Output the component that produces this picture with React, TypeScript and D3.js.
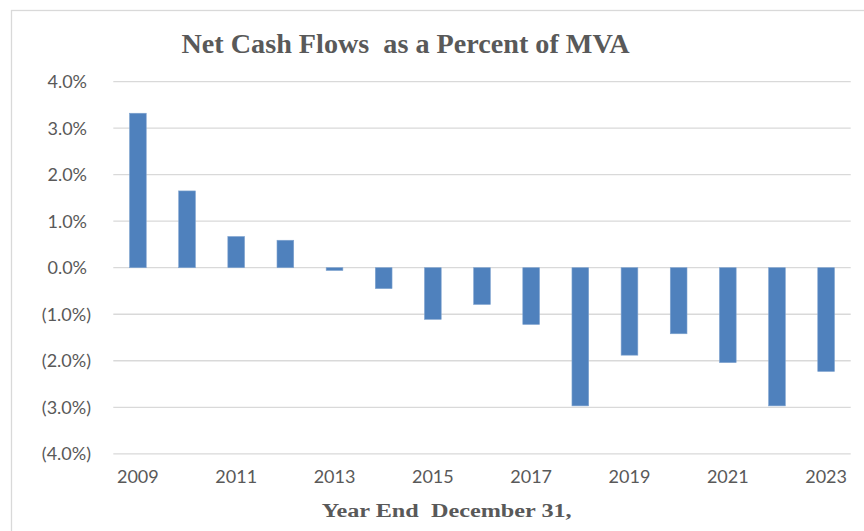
import React from "react";
import * as d3 from "d3";

const years = ["2009","2010","2011","2012","2013","2014","2015","2016","2017","2018","2019","2020","2021","2022","2023"];
const values = [3.32, 1.65, 0.67, 0.59, -0.06, -0.45, -1.11, -0.79, -1.22, -2.97, -1.88, -1.42, -2.04, -2.97, -2.23];
const yTicks = [4, 3, 2, 1, 0, -1, -2, -3, -4];
const xTickLabels = ["2009","2011","2013","2015","2017","2019","2021","2023"];
const title = "Net Cash Flows  as a Percent of MVA";
const xTitle = "Year End  December 31,";

const W = 864, H = 531;

function fmt(v: number) {
  const s = Math.abs(v).toFixed(1) + "%";
  return v < 0 ? "(" + s + ")" : s;
}

export default function App() {
  const x = d3.scaleBand<string>().domain(years).range([113.3, 850.7]).paddingInner(0.66).paddingOuter(0.33);
  const y = d3.scaleLinear().domain([-4, 4]).range([453.8, 81.6]);
  const textColor = "#595959";
  return (
    <svg width={W} height={H} style={{ position: "absolute", left: 0, top: 0, background: "#fff" }}>
      <rect x={0} y={0} width={W} height={H} fill="#fff" />
      <rect x={11.5} y={10.5} width={W + 20} height={H + 20} fill="none" stroke="#d9d9d9" strokeWidth={1.3} />
      {yTicks.map((t) => (
        <g key={t}>
          <line x1={113.3} x2={850.7} y1={y(t)} y2={y(t)} stroke="#d9d9d9" strokeWidth={1.3} />
          <text
            x={t < 0 ? 91 : 87}
            y={y(t)}
            dy="0.36em"
            textAnchor="end"
            fontFamily="Lato, 'Noto Sans', sans-serif"
            fontSize={18}
            fill={textColor}
          >
            {fmt(t)}
          </text>
        </g>
      ))}
      {years.map((yr, i) => {
        const v = values[i];
        const y0 = y(0), y1 = y(v);
        return (
          <rect
            key={yr}
            x={x(yr)}
            width={x.bandwidth()}
            y={Math.min(y0, y1)}
            height={Math.max(Math.abs(y1 - y0), 1)}
            fill="#4f81bd"
            stroke="#7fa3cf"
            strokeWidth={0.6}
          />
        );
      })}
      {xTickLabels.map((yr) => (
        <text
          key={yr}
          x={(x(yr) as number) + x.bandwidth() / 2}
          y={483.3}
          textAnchor="middle"
          fontFamily="Lato, 'Noto Sans', sans-serif"
          fontSize={18}
          fill={textColor}
        >
          {yr}
        </text>
      ))}
      <text
        x={181.5}
        y={53.3}
        fontFamily="'Liberation Serif', 'Times New Roman', serif"
        fontWeight="bold"
        fontSize={27}
        fill={textColor}
        textLength={448}
        lengthAdjust="spacingAndGlyphs"
        style={{ whiteSpace: "pre" }}
      >
        {title}
      </text>
      <text
        x={321.7}
        y={517.3}
        fontFamily="'Liberation Serif', 'Times New Roman', serif"
        fontWeight="bold"
        fontSize={18}
        fill={textColor}
        textLength={250}
        lengthAdjust="spacingAndGlyphs"
        style={{ whiteSpace: "pre" }}
      >
        {xTitle}
      </text>
    </svg>
  );
}
